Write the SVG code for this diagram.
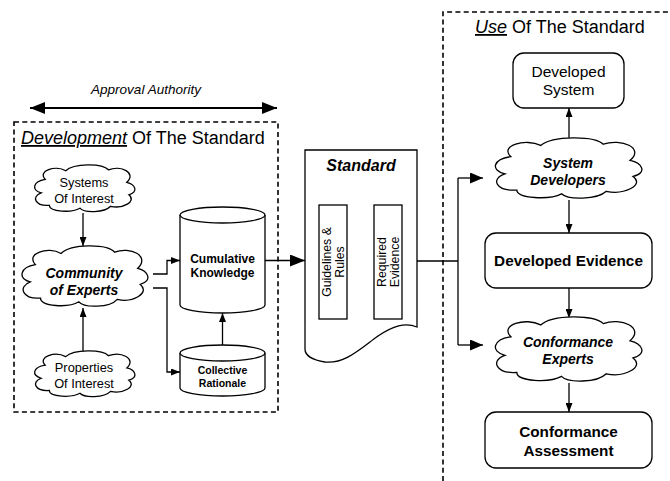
<svg xmlns="http://www.w3.org/2000/svg" xmlns:xlink="http://www.w3.org/1999/xlink" width="670" height="481" viewBox="0 0 670 481">
<style>
text{font-family:"Liberation Sans",Arial,sans-serif;fill:#000}
.shape{fill:#fff;stroke:#000;stroke-width:1.3}
.dash{fill:none;stroke:#000;stroke-width:1.6;stroke-dasharray:5,3.3}
.conn{fill:none;stroke:#000;stroke-width:1.3}
.title{font-size:18px}
.cloudtxt{font-size:12.8px;text-anchor:middle}
.bi{font-weight:bold;font-style:italic;text-anchor:middle}
.b{font-weight:bold;text-anchor:middle}
.vt{font-size:12.3px;text-anchor:middle}
</style>
<defs>
<path id="cloud" vector-effect="non-scaling-stroke" fill="#fff" stroke="#000" stroke-width="1.3" d="M12,30 C4,12 22,0 32,12 C40,-4 68,-4 74,10 C86,0 102,16 92,36 C100,40 104,56 94,62 C102,76 88,92 76,86 C70,100 50,100 46,90 C38,100 16,98 16,84 C2,86 -2,66 8,58 C-2,52 0,34 12,30 Z"/>
<marker id="as" markerUnits="userSpaceOnUse" markerWidth="9" markerHeight="7" refX="9" refY="3.5" orient="auto"><path d="M0,0 L9,3.5 L0,7 Z" fill="#000"/></marker>
<marker id="am" markerUnits="userSpaceOnUse" markerWidth="13" markerHeight="11" refX="13" refY="5.5" orient="auto"><path d="M0,0 L13,5.5 L0,11 Z" fill="#000"/></marker>
<marker id="al" markerUnits="userSpaceOnUse" markerWidth="15" markerHeight="12" refX="15" refY="6" orient="auto-start-reverse"><path d="M0,0 L15,6 L0,12 Z" fill="#000"/></marker>
</defs>

<g id="approval">
<text x="146" y="94" font-size="13.5" font-style="italic" text-anchor="middle">Approval Authority</text>
<line x1="30" y1="108" x2="277" y2="108" stroke="#000" stroke-width="2" marker-start="url(#al)" marker-end="url(#al)"/>
</g>

<g id="development">
<rect class="dash" x="14" y="122" width="264" height="290"/>
<text class="title" x="21" y="144"><tspan font-style="italic" text-decoration="underline">Development</tspan> Of The Standard</text>
</g>

<g id="use">
<path class="dash" d="M443,481 V12 H672"/>
<text class="title" x="475" y="33"><tspan font-style="italic" text-decoration="underline">Use</tspan> Of The Standard</text>
</g>

<g id="connectors">
<line class="conn" x1="83" y1="213" x2="83" y2="246" marker-end="url(#as)"/>
<line class="conn" x1="83" y1="351" x2="83" y2="308" marker-end="url(#as)"/>
<path class="conn" d="M153,274 H167 V260.5 H180" marker-end="url(#as)"/>
<path class="conn" d="M153,288 H167 V372 H180" marker-end="url(#as)"/>
<line class="conn" x1="222.5" y1="345" x2="222.5" y2="313" marker-end="url(#as)"/>
<line class="conn" x1="265" y1="260.5" x2="305" y2="260.5" stroke-width="1.6" marker-end="url(#al)"/>
<line class="conn" x1="347" y1="260.5" x2="374" y2="260.5" marker-end="url(#as)"/>
<path class="conn" d="M417,261 H458"/>
<path class="conn" d="M458,178 V345"/>
<line class="conn" x1="458" y1="178" x2="483" y2="178" stroke-width="1.6" marker-end="url(#am)"/>
<line class="conn" x1="458" y1="345" x2="483" y2="345" stroke-width="1.6" marker-end="url(#am)"/>
<line class="conn" x1="569" y1="138" x2="569" y2="108" marker-end="url(#as)"/>
<line class="conn" x1="569" y1="200" x2="569" y2="233" marker-end="url(#as)"/>
<line class="conn" x1="569" y1="288" x2="569" y2="318" marker-end="url(#as)"/>
<line class="conn" x1="569" y1="383" x2="569" y2="412" marker-end="url(#as)"/>
</g>

<g id="systems-of-interest">
<use xlink:href="#cloud" href="#cloud" transform="translate(33,165) scale(1.02,0.48)"/>
<text class="cloudtxt" x="84" y="187">Systems</text>
<text class="cloudtxt" x="84" y="203">Of Interest</text>
</g>

<g id="community">
<use xlink:href="#cloud" href="#cloud" transform="translate(20,246) scale(1.28,0.62)"/>
<text class="bi" font-size="14" x="84" y="278">Community</text>
<text class="bi" font-size="14" x="84" y="295">of Experts</text>
</g>

<g id="properties-of-interest">
<use xlink:href="#cloud" href="#cloud" transform="translate(33,351) scale(1.02,0.47)"/>
<text class="cloudtxt" x="84" y="372">Properties</text>
<text class="cloudtxt" x="84" y="388">Of Interest</text>
</g>

<g id="cumulative-knowledge">
<path class="shape" d="M180,215 V305 A42.5,8 0 0 0 265,305 V215"/>
<ellipse class="shape" cx="222.5" cy="215" rx="42.5" ry="8"/>
<text class="b" font-size="12" x="222.5" y="263">Cumulative</text>
<text class="b" font-size="12" x="222.5" y="277">Knowledge</text>
</g>

<g id="collective-rationale">
<path class="shape" d="M180,353 V388 A42.5,8 0 0 0 265,388 V353"/>
<ellipse class="shape" cx="222.5" cy="353" rx="42.5" ry="8"/>
<text class="b" font-size="10.5" x="222.5" y="374">Collective</text>
<text class="b" font-size="10.5" x="222.5" y="387">Rationale</text>
</g>

<g id="standard">
<path class="shape" d="M305,150 H417 V327 C405,322 393,326 378,336 C360,349 345,364 325,362 C312,360 305,355 305,349 Z"/>
<text class="bi" font-size="16" x="361" y="171">Standard</text>
<rect class="shape" x="319" y="205" width="28" height="114"/>
<rect class="shape" x="374" y="205" width="28" height="114"/>
<g transform="translate(333,262) rotate(-90)">
<text class="vt" x="0" y="-2">Guidelines &amp;</text>
<text class="vt" x="0" y="10.5">Rules</text>
</g>
<g transform="translate(388,262) rotate(-90)">
<text class="vt" x="0" y="-2">Required</text>
<text class="vt" x="0" y="10.5">Evidence</text>
</g>
</g>

<g id="developed-system">
<rect class="shape" x="513" y="53" width="111" height="55" rx="11"/>
<text x="568.5" y="77" font-size="15.5" text-anchor="middle">Developed</text>
<text x="568.5" y="95" font-size="15.5" text-anchor="middle">System</text>
</g>

<g id="system-developers">
<use xlink:href="#cloud" href="#cloud" transform="translate(493,138) scale(1.49,0.62)"/>
<text class="bi" font-size="14" x="568" y="168">System</text>
<text class="bi" font-size="14" x="568" y="185">Developers</text>
</g>

<g id="developed-evidence">
<rect class="shape" x="485" y="233" width="167" height="55" rx="11"/>
<text class="b" font-size="15.3" x="568.5" y="266">Developed Evidence</text>
</g>

<g id="conformance-experts">
<use xlink:href="#cloud" href="#cloud" transform="translate(493,317) scale(1.49,0.66)"/>
<text class="bi" font-size="14" x="568" y="347">Conformance</text>
<text class="bi" font-size="14" x="568" y="364">Experts</text>
</g>

<g id="conformance-assessment">
<rect class="shape" x="485" y="412" width="167" height="56" rx="11"/>
<text class="b" font-size="15.3" x="568.5" y="437">Conformance</text>
<text class="b" font-size="15.3" x="568.5" y="456">Assessment</text>
</g>
</svg>
